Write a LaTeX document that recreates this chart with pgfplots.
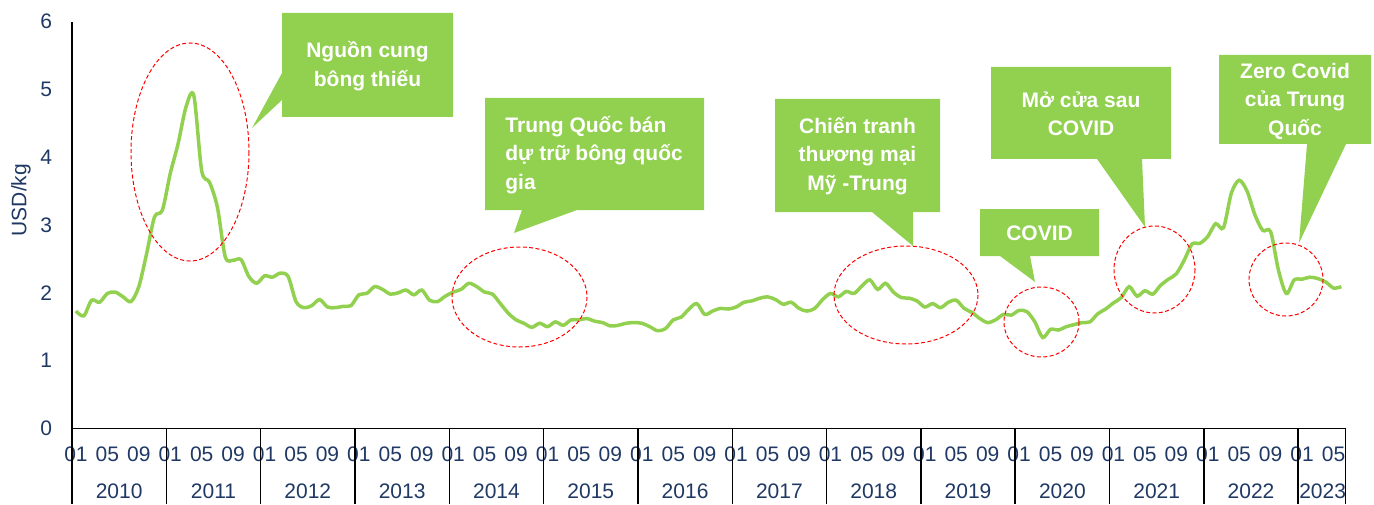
\documentclass[border=0pt]{standalone}
\usepackage{fontspec}
\setmainfont{Liberation Sans}
\usepackage{pgfplots}
\usepackage{pgfplotstable}
\pgfplotsset{compat=1.18}
\definecolor{lgreen}{HTML}{92D050}
\definecolor{navy}{HTML}{1F3864}
\pgfplotstableread{
m v
0 1.73
1 1.66
2 1.89
3 1.86
4 1.99
5 2.01
6 1.94
7 1.87
8 2.09
9 2.58
10 3.12
11 3.22
12 3.76
13 4.20
14 4.74
15 4.91
16 3.80
17 3.63
18 3.26
19 2.53
20 2.48
21 2.49
22 2.24
23 2.14
24 2.25
25 2.23
26 2.29
27 2.24
28 1.87
29 1.78
30 1.81
31 1.90
32 1.79
33 1.78
34 1.80
35 1.81
36 1.97
37 1.99
38 2.09
39 2.05
40 1.98
41 2.00
42 2.04
43 1.97
44 2.04
45 1.89
46 1.87
47 1.95
48 2.01
49 2.05
50 2.14
51 2.09
52 2.01
53 1.98
54 1.84
55 1.70
56 1.60
57 1.55
58 1.49
59 1.55
60 1.50
61 1.57
62 1.52
63 1.60
64 1.60
65 1.62
66 1.58
67 1.56
68 1.51
69 1.52
70 1.55
71 1.56
72 1.55
73 1.50
74 1.44
75 1.47
76 1.60
77 1.64
78 1.76
79 1.84
80 1.68
81 1.73
82 1.77
83 1.76
84 1.79
85 1.86
86 1.88
87 1.92
88 1.94
89 1.90
90 1.83
91 1.86
92 1.77
93 1.73
94 1.77
95 1.90
96 1.99
97 1.94
98 2.02
99 1.99
100 2.10
101 2.19
102 2.05
103 2.14
104 2.01
105 1.93
106 1.92
107 1.88
108 1.79
109 1.84
110 1.78
111 1.86
112 1.89
113 1.77
114 1.71
115 1.62
116 1.56
117 1.60
118 1.68
119 1.67
120 1.74
121 1.72
122 1.57
123 1.34
124 1.46
125 1.45
126 1.50
127 1.53
128 1.56
129 1.57
130 1.69
131 1.76
132 1.85
133 1.93
134 2.09
135 1.95
136 2.03
137 1.98
138 2.11
139 2.20
140 2.28
141 2.48
142 2.72
143 2.73
144 2.83
145 3.02
146 2.96
147 3.47
148 3.66
149 3.50
150 3.15
151 2.92
152 2.90
153 2.33
154 1.99
155 2.19
156 2.20
157 2.23
158 2.21
159 2.16
160 2.07
161 2.09
}\pricedata

\begin{document}
\begin{tikzpicture}
\begin{axis}[
  scale only axis, width=636.65pt, height=203.3pt,
  xmin=-0.5, xmax=161.5, ymin=0, ymax=6,
  axis lines=left, axis line style={-, black, line width=0.75pt},
  ytick={0,1,2,3,4,5,6},
  xtick={0,4,...,160},
  xticklabels={01,05,09,01,05,09,01,05,09,01,05,09,01,05,09,01,05,09,01,05,09,01,05,09,01,05,09,01,05,09,01,05,09,01,05,09,01,05,09,01,05},
  major tick length=0pt,
  tick style={draw=none},
  /pgf/number format/assume math mode=true,
  ticklabel style={font=\fontsize{10.5}{12}\selectfont, text=navy},
  yticklabel style={xshift=-6.5pt},
  xticklabel style={yshift=-5.85pt},
  clip=false,
]
\addplot[lgreen, line width=1.75pt, smooth, tension=0.5] table[x=m,y=v]{\pricedata};
\end{axis}
\begin{scope}[x=0.5pt,y=-0.5pt,xshift=-36pt,yshift=214.15pt]
  % year separators
  \foreach \k in {0,...,13} \draw[black, line width=0.75pt] ({72+94.32*\k},428.3) -- ({72+94.32*\k},504);
  \draw[black, line width=0.75pt] (1345.3,428.3) -- (1345.3,504);
  % year labels
  \foreach \k/\yr in {0/2010,1/2011,2/2012,3/2013,4/2014,5/2015,6/2016,7/2017,8/2018,9/2019,10/2020,11/2021,12/2022}
    \node[text=navy, font=\fontsize{10.5}{12}\selectfont, inner sep=0pt] at ({72+94.32*\k+47.16},491) {\yr};
  \node[text=navy, font=\fontsize{10.5}{12}\selectfont, inner sep=0pt] at (1322.6,491) {2023};
  % y label
  \node[rotate=90, text=navy, font=\fontsize{10.5}{12}\selectfont, inner sep=0pt] at (21,200) {USD/kg};
  % callouts
  \tikzset{ctext/.style={text=white, font=\bfseries\fontsize{10.5}{14.25}\selectfont, inner sep=0pt}}
  \fill[lgreen] (282,13) -- (453,13) -- (453,117) -- (282,117) -- (282,100) -- (252,128) -- (282,73) -- cycle;
  \node[ctext, align=center] at (367.5,66) {Nguồn cung\\bông thiếu};
  \fill[lgreen] (485,98) -- (704,98) -- (704,210) -- (577,210) -- (514,233) -- (522,210) -- (485,210) -- cycle;
  \node[ctext, align=left, anchor=west] at (505,155) {Trung Quốc bán\\dự trữ bông quốc\\gia};
  \fill[lgreen] (775,99) -- (940,99) -- (940,212) -- (913,212) -- (913,246) -- (872,212) -- (775,212) -- cycle;
  \node[ctext, align=center] at (857.5,156) {Chiến tranh\\thương mại\\Mỹ -Trung};
  \fill[lgreen] (980,209) -- (1099,209) -- (1099,256) -- (1030,256) -- (1035,282) -- (1000,256) -- (980,256) -- cycle;
  \node[ctext, align=center] at (1039.5,233) {COVID};
  \fill[lgreen] (991,67) -- (1171,67) -- (1171,159) -- (1142,159) -- (1145,227) -- (1097,159) -- (991,159) -- cycle;
  \node[ctext, align=center] at (1081,114) {Mở cửa sau\\COVID};
  \fill[lgreen] (1219,55) -- (1371,55) -- (1371,144) -- (1346,144) -- (1299,243) -- (1307,144) -- (1219,144) -- cycle;
  \node[ctext, align=center] at (1295,101) {Zero Covid\\của Trung\\Quốc};
  % ellipses
  \tikzset{ell/.style={red, line width=0.5pt, dash pattern=on 2pt off 1.2pt}}
  \draw[ell] (190,152) ellipse [x radius=59, y radius=109];
  \draw[ell] (519.5,297) ellipse [x radius=67.5, y radius=50];
  \draw[ell] (906,295) ellipse [x radius=72, y radius=49];
  \draw[ell] (1041.5,322) ellipse [x radius=37.5, y radius=35];
  \draw[ell] (1154.5,269.5) ellipse [x radius=40.5, y radius=43.5];
  \draw[ell] (1286,279.5) ellipse [x radius=37, y radius=36.5];
  \pgfresetboundingbox
  \path[use as bounding box] (0,0) rectangle (1374,504);
\end{scope}
\end{tikzpicture}
\end{document}
